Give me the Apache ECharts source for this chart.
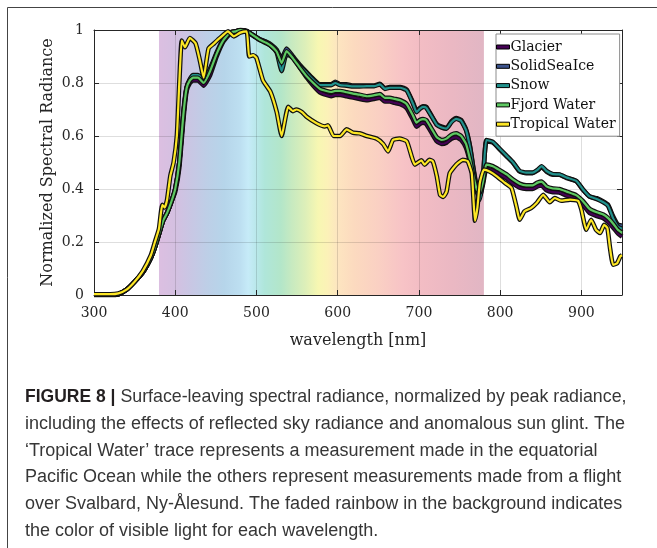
<!DOCTYPE html>
<html>
<head>
<meta charset="utf-8">
<script src="https://cdn.jsdelivr.net/npm/echarts@6/dist/echarts.min.js"></script>
<style>
html,body{margin:0;padding:0;background:#fff;}
#chart{width:657px;height:548px;}
</style>
</head>
<body>
<div id="chart"></div>
<script>
// ---------- DATA ----------
const seriesNames = ['Glacier', 'SolidSeaIce', 'Snow', 'Fjord Water', 'Tropical Water'];
const xTicks = [300, 400, 500, 600, 700, 800, 900];
const yTicks = [0, 0.2, 0.4, 0.6, 0.8, 1];
const visibleRange = [380, 780];

const wlGroup = [300,320,330,340,350,360,370,375,380,385,390,395,400,405,410,414,418,422,428,435,443,451,459,467,475,480,488,496,504,512,518,525,531,537,545,553,562,570,578,586,592,597,603,611,619,627,636,645,652,658,664,670,677,685,693,697,701,705,709,716,722,728,734,740,746,752,758,763,767,771,775,779,783,791,800,808,816,824,832,840,846,851,857,865,873,882,894,902,910,919,927,933,939,945,950];

const solidSeaIce = [0,0,0.003,0.02,0.05,0.085,0.14,0.18,0.23,0.28,0.31,0.35,0.40,0.50,0.68,0.78,0.81,0.825,0.825,0.81,0.85,0.91,0.96,0.99,0.995,1.0,0.997,0.98,0.965,0.955,0.945,0.925,0.89,0.93,0.9,0.87,0.84,0.815,0.795,0.795,0.795,0.805,0.795,0.795,0.79,0.79,0.79,0.79,0.797,0.78,0.785,0.785,0.785,0.775,0.724,0.695,0.705,0.712,0.71,0.674,0.645,0.635,0.63,0.655,0.668,0.66,0.625,0.56,0.48,0.41,0.37,0.45,0.58,0.575,0.548,0.523,0.498,0.466,0.46,0.46,0.47,0.483,0.466,0.454,0.454,0.441,0.429,0.397,0.372,0.365,0.353,0.34,0.297,0.265,0.262];

const snow = [0,0,0.003,0.02,0.05,0.085,0.14,0.18,0.23,0.28,0.31,0.35,0.40,0.50,0.69,0.785,0.815,0.83,0.83,0.815,0.855,0.915,0.965,0.99,0.995,1.0,0.995,0.978,0.962,0.95,0.94,0.915,0.845,0.91,0.895,0.865,0.837,0.812,0.792,0.792,0.792,0.8,0.792,0.79,0.787,0.787,0.788,0.788,0.795,0.778,0.782,0.782,0.782,0.772,0.72,0.69,0.702,0.71,0.707,0.672,0.642,0.632,0.628,0.652,0.665,0.657,0.622,0.555,0.475,0.4,0.36,0.44,0.585,0.578,0.55,0.525,0.5,0.468,0.462,0.462,0.472,0.486,0.468,0.456,0.455,0.443,0.43,0.398,0.372,0.362,0.35,0.336,0.29,0.258,0.25];

const glacier = [0,0,0.003,0.02,0.05,0.085,0.14,0.18,0.23,0.28,0.31,0.35,0.39,0.48,0.66,0.77,0.80,0.81,0.81,0.79,0.83,0.90,0.955,0.985,0.995,1.0,0.995,0.98,0.965,0.955,0.94,0.92,0.88,0.925,0.895,0.86,0.82,0.79,0.765,0.755,0.75,0.755,0.755,0.75,0.745,0.74,0.735,0.74,0.745,0.73,0.73,0.725,0.72,0.705,0.66,0.635,0.645,0.65,0.645,0.61,0.58,0.57,0.575,0.59,0.595,0.585,0.555,0.5,0.44,0.39,0.375,0.42,0.475,0.47,0.455,0.44,0.42,0.405,0.4,0.4,0.41,0.413,0.395,0.388,0.387,0.375,0.362,0.34,0.31,0.298,0.29,0.275,0.255,0.232,0.22];

const fjordWater = [0,0,0.003,0.02,0.05,0.085,0.14,0.18,0.23,0.28,0.31,0.35,0.40,0.50,0.68,0.78,0.81,0.82,0.82,0.80,0.845,0.91,0.96,0.99,0.995,1.0,0.995,0.98,0.963,0.952,0.94,0.918,0.875,0.92,0.893,0.86,0.825,0.8,0.778,0.77,0.766,0.77,0.77,0.765,0.76,0.756,0.75,0.754,0.758,0.744,0.744,0.74,0.735,0.72,0.675,0.65,0.66,0.664,0.66,0.625,0.595,0.585,0.59,0.605,0.61,0.6,0.57,0.51,0.45,0.4,0.385,0.43,0.492,0.486,0.47,0.455,0.435,0.42,0.414,0.414,0.424,0.428,0.41,0.402,0.4,0.39,0.376,0.354,0.325,0.312,0.304,0.29,0.27,0.246,0.235];

const wlTropical = [300,320,330,340,350,360,370,375,380,384,387,390,394,398,402,405,408,412,418,425,430,435,441,448,455,465,472,480,488,491,496,500,508,517,525,531,539,545,549,556,562,574,584,588,595,603,611,619,627,636,648,656,662,668,676,685,691,695,703,707,713,717,722,726,730,734,738,746,754,760,765,767,769,772,775,780,787,796,806,814,820,824,830,838,845,853,861,867,875,886,896,900,906,912,918,923,928,932,935,939,944,948,950];

const tropicalWater = [0.003,0.003,0.006,0.02,0.05,0.09,0.15,0.2,0.25,0.34,0.33,0.36,0.45,0.5,0.6,0.8,0.96,0.935,0.97,0.95,0.89,0.82,0.93,0.95,0.97,0.995,0.976,0.99,0.995,0.9,0.905,0.895,0.81,0.768,0.69,0.6,0.71,0.694,0.70,0.69,0.672,0.648,0.636,0.64,0.6,0.6,0.625,0.612,0.61,0.6,0.59,0.57,0.542,0.585,0.59,0.58,0.523,0.492,0.508,0.492,0.51,0.505,0.448,0.378,0.37,0.39,0.46,0.492,0.51,0.505,0.46,0.37,0.28,0.33,0.423,0.473,0.466,0.448,0.423,0.404,0.334,0.284,0.316,0.328,0.347,0.378,0.35,0.366,0.356,0.36,0.355,0.322,0.246,0.284,0.246,0.234,0.265,0.253,0.183,0.114,0.12,0.146,0.15];

const captionLines = [
  ['FIGURE 8 |', ' Surface-leaving spectral radiance, normalized by peak radiance,'],
  ['', 'including the effects of reflected sky radiance and anomalous sun glint. The'],
  ['', '\u2018Tropical Water\u2019 trace represents a measurement made in the equatorial'],
  ['', 'Pacific Ocean while the others represent measurements made from a flight'],
  ['', 'over Svalbard, Ny-\u00C5lesund. The faded rainbow in the background indicates'],
  ['', 'the color of visible light for each wavelength.']
];

// ---------- STYLE ----------
const colors = ['#440154', '#3b528b', '#21918c', '#5ec962', '#fde725'];
const serif = 'DejaVu Serif';
const rainbowStops = [
  [0.00, '#dcbfe1'], [0.05, '#d4c0e1'], [0.10, '#c8c7e4'], [0.15, '#bdcfe7'],
  [0.20, '#b6d5ea'], [0.25, '#bddff1'], [0.275, '#c6ebf8'], [0.30, '#b9e8ea'],
  [0.325, '#afe6da'], [0.375, '#b3e6c9'], [0.41, '#c8eac0'], [0.45, '#ddefb9'],
  [0.49, '#f7f7b2'], [0.52, '#fcf1b8'], [0.55, '#fde5c0'], [0.60, '#fcdabf'],
  [0.675, '#fad0c3'], [0.75, '#f7c3c6'], [0.80, '#f3bdc4'], [0.90, '#ebb8c3'], [1.0, '#e1b6c4']
];

const seriesData = [
  [wlGroup, glacier], [wlGroup, solidSeaIce], [wlGroup, snow], [wlGroup, fjordWater], [wlTropical, tropicalWater]
];

const series = [];
series.push({
  type: 'line', name: 'rainbow', data: [], z: 1, silent: true,
  markArea: {
    silent: true,
    itemStyle: {
      color: {
        type: 'linear', x: 0, y: 0, x2: 1, y2: 0,
        colorStops: rainbowStops.map(s => ({offset: s[0], color: s[1]}))
      }
    },
    data: [[{xAxis: visibleRange[0], yAxis: 0}, {xAxis: visibleRange[1], yAxis: 1}]]
  }
});
seriesNames.forEach((nm, i) => {
  const d = seriesData[i][0].map((w, k) => [w, seriesData[i][1][k]]);
  series.push({
    type: 'line', name: nm + ' outline', data: d, showSymbol: false, symbol: 'none',
    z: 3, silent: true, smooth: 0.15,
    lineStyle: {color: '#111', width: 4.6}
  });
  series.push({
    type: 'line', name: nm, data: d, showSymbol: false, symbol: 'none',
    z: 3, silent: true, smooth: 0.15,
    color: colors[i],
    itemStyle: {color: colors[i]},
    lineStyle: {color: colors[i], width: 2.2}
  });
});

const graphics = [
  {type: 'polyline', shape: {points: [[7.5, 548], [7.5, 7.5], [657, 7.5]]}, style: {stroke: '#444', lineWidth: 1, fill: null}}
];
captionLines.forEach((ln, i) => {
  graphics.push({
    type: 'text', left: 25, top: 388 + i * 26.8,
    style: {
      text: (ln[0] ? '{b|' + ln[0] + '}' : '') + '{r|' + ln[1] + '}',
      rich: {
        b: {fontFamily: 'Liberation Sans', fontSize: 17.5, fontWeight: 'bold', fill: '#231f20'},
        r: {fontFamily: 'Liberation Sans', fontSize: i === 0 ? 17.8 : 18, fill: '#363636'}
      }
    }
  });
});

const axisCol = '#262626';
const gridBox = {left: 94, right: 35, top: 30, bottom: 253};

const option = {
  animation: false,
  backgroundColor: '#fff',
  grid: Object.assign({show: false}, gridBox),
  legend: {
    data: seriesNames,
    orient: 'vertical', left: 496, top: 34,
    width: 121,
    backgroundColor: '#fff', borderColor: '#8c8c8c', borderWidth: 1,
    padding: [5, 4, 4, 0],
    itemGap: 3.3, itemWidth: 13, itemHeight: 4,
    icon: 'rect',
    itemStyle: {borderColor: '#000', borderWidth: 1},
    textStyle: {fontFamily: serif, fontSize: 14, color: '#111', lineHeight: 16, padding: [0, 0, 0, -4]},
    selectedMode: false
  },
  xAxis: [{
    type: 'value', min: 300, max: 950, interval: 100, z: 2,
    name: 'wavelength [nm]', nameLocation: 'middle', nameGap: 38, nameMoveOverlap: false,
    nameTextStyle: {fontFamily: serif, fontSize: 16, color: '#262626'},
    axisLine: {show: true, lineStyle: {color: axisCol, width: 1}},
    axisTick: {show: true, inside: true, length: 5, lineStyle: {color: axisCol}},
    axisLabel: {fontFamily: serif, fontSize: 14, color: '#262626', margin: 11, showMaxLabel: false,
      formatter: v => (xTicks.indexOf(v) >= 0 ? String(v) : '')},
    splitLine: {show: true, lineStyle: {color: 'rgba(0,0,0,0.13)', width: 1}}
  }, {
    type: 'value', min: 300, max: 950, interval: 100, position: 'top', z: 2,
    axisLine: {show: true, onZero: false, lineStyle: {color: axisCol, width: 1}},
    axisTick: {show: true, inside: true, length: 5, lineStyle: {color: axisCol}},
    axisLabel: {show: false}, splitLine: {show: false}
  }],
  yAxis: [{
    type: 'value', min: 0, max: 1, interval: 0.2, z: 2,
    name: 'Normalized Spectral Radiance', nameLocation: 'middle', nameGap: 38, nameMoveOverlap: false,
    nameTextStyle: {fontFamily: serif, fontSize: 16, color: '#262626'},
    axisLine: {show: true, lineStyle: {color: axisCol, width: 1}},
    axisTick: {show: true, inside: true, length: 5, lineStyle: {color: axisCol}},
    axisLabel: {fontFamily: serif, fontSize: 14, color: '#262626', margin: 10,
      formatter: v => String(Math.round(v * 10) / 10)},
    splitLine: {show: true, lineStyle: {color: 'rgba(0,0,0,0.13)', width: 1}}
  }, {
    type: 'value', min: 0, max: 1, interval: 0.2, position: 'right', z: 2,
    axisLine: {show: true, onZero: false, lineStyle: {color: axisCol, width: 1}},
    axisTick: {show: true, inside: true, length: 5, lineStyle: {color: axisCol}},
    axisLabel: {show: false}, splitLine: {show: false}
  }],
  series: series,
  graphic: graphics
};

const chart = echarts.init(document.getElementById('chart'), null, {renderer: 'canvas'});
chart.setOption(option);
</script>
</body>
</html>
